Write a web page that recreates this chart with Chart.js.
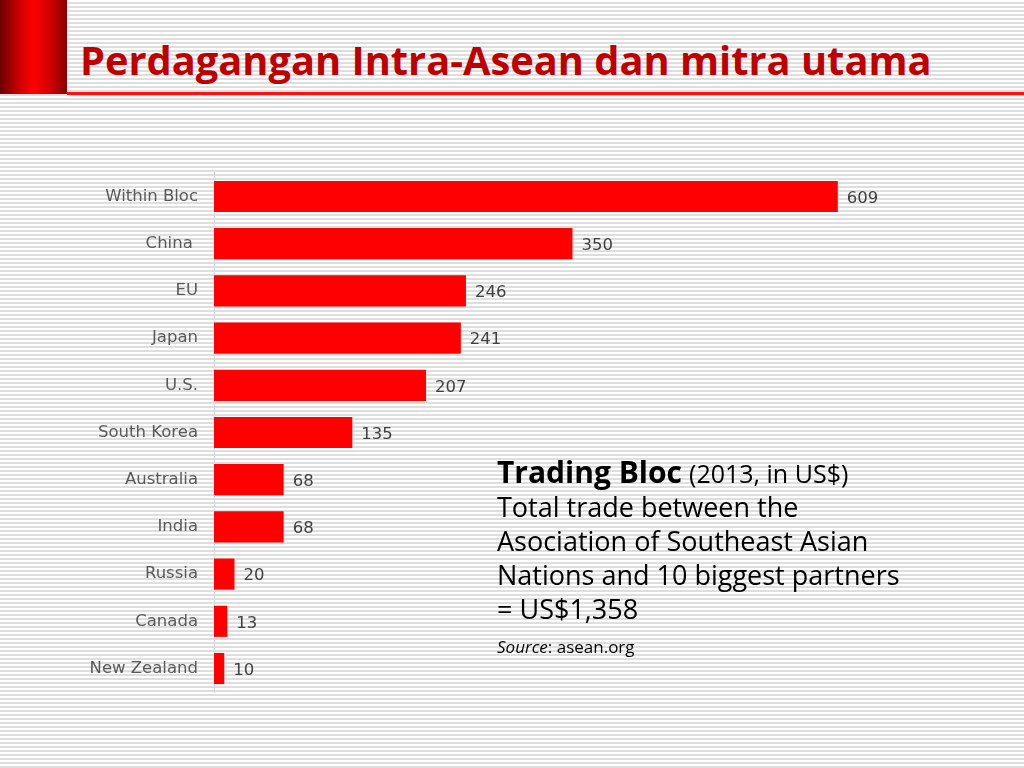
<!DOCTYPE html>
<html>
<head>
<meta charset="utf-8">
<script src="https://cdn.jsdelivr.net/npm/chart.js@4/dist/chart.umd.min.js"></script>
<style>
  html, body { margin: 0; padding: 0; }
  body {
    width: 1024px; height: 768px; position: relative; overflow: hidden;
    background: repeating-linear-gradient(to bottom, #ffffff 0px, #ffffff 2px, #dedede 2px, #dedede 4px);
    font-family: "Open Sans", sans-serif;
  }
  #block {
    position: absolute; left: 0; top: 0; width: 67px; height: 94px;
    background: linear-gradient(to right, #6e0000 0%, #d00000 30%, #ff0000 50%, #d00000 75%, #8a0000 100%);
  }
  #rule { position: absolute; left: 67px; top: 92px; width: 957px; height: 3px; background: #ff1010; }
  #title {
    position: absolute; left: 80px; top: 32px; margin: 0;
    font: bold 39.8px "Open Sans", sans-serif; color: #c00000; white-space: nowrap;
  }
  #wrap { position: absolute; left: 80px; top: 155px; width: 860px; height: 555px; }
  #note { position: absolute; left: 497px; top: 455px; color: #000; white-space: nowrap; }
  #note .big { font-size: 27px; line-height: 34px; }
  #note b { font-size: 30px; }
  #note .yr { font-size: 25px; }
  #note .src { font-size: 17px; margin-top: 9px; }
</style>
</head>
<body>
<div id="block"></div>
<div id="rule"></div>
<h1 id="title">Perdagangan Intra-Asean dan mitra utama</h1>
<div id="wrap"><canvas id="myChart"></canvas></div>
<div id="note">
  <div class="big"><b>Trading Bloc</b> <span class="yr">(2013, in US$)</span></div>
  <div class="big">Total trade between the</div>
  <div class="big">Asociation of Southeast Asian</div>
  <div class="big">Nations and 10 biggest partners</div>
  <div class="big">= US$1,358</div>
  <div class="src"><i>Source</i>: asean.org</div>
</div>
<script>
const partners = ['Within Bloc', 'China ', 'EU', 'Japan', 'U.S.', 'South Korea', 'Australia', 'India', 'Russia', 'Canada', 'New Zealand'];
const tradeValues = [609, 350, 246, 241, 207, 135, 68, 68, 20, 13, 10];

// value labels to the right of each bar
const valueLabels = {
  id: 'valueLabels',
  afterDatasetsDraw(chart) {
    const ctx = chart.ctx;
    const meta = chart.getDatasetMeta(0);
    ctx.save();
    ctx.font = '16.5px "DejaVu Sans", sans-serif';
    ctx.fillStyle = '#404040';
    ctx.textAlign = 'left';
    ctx.textBaseline = 'middle';
    meta.data.forEach((bar, i) => {
      ctx.fillText(String(tradeValues[i]), bar.x + 9, bar.y + 2);
    });
    ctx.restore();
  }
};

const ctx = document.getElementById('myChart').getContext('2d');
new Chart(ctx, {
  type: 'bar',
  data: {
    labels: partners,
    datasets: [{
      data: tradeValues,
      backgroundColor: '#ff0000',
      borderWidth: 0,
      barPercentage: 0.66,
      categoryPercentage: 1
    }]
  },
  options: {
    indexAxis: 'y',
    responsive: true,
    maintainAspectRatio: false,
    animation: false,
    layout: { padding: { top: 2, bottom: 2, right: 9, left: 0 } },
    plugins: { legend: { display: false }, tooltip: { enabled: false } },
    scales: {
      x: { display: false, min: 0, max: 700 },
      y: {
        afterFit: s => { s.width = 134; },
        grid: { display: false },
        border: { display: true, color: '#d0d8e0', width: 1 },
        ticks: {
          color: '#595959',
          padding: 8,
          font: { family: '"DejaVu Sans", sans-serif', size: 16.5 }
        }
      }
    }
  },
  plugins: [valueLabels]
});
</script>
</body>
</html>
